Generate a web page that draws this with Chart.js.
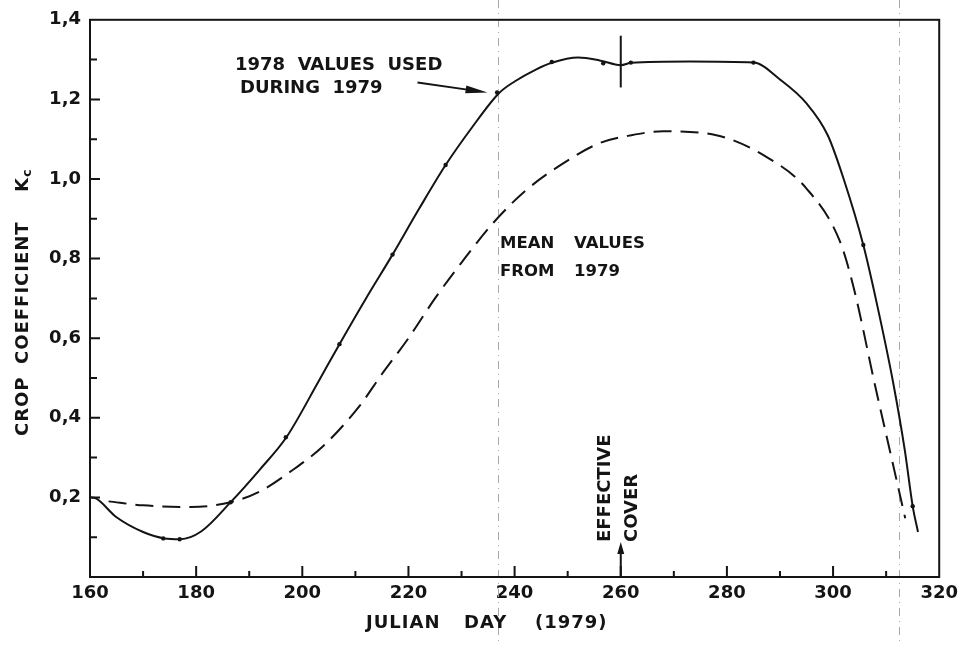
<!DOCTYPE html>
<html>
<head>
<meta charset="utf-8">
<script src="https://cdn.jsdelivr.net/npm/chart.js@4"></script>
<style>
  html, body { margin: 0; background: #fff; }
</style>
</head>
<body>
<canvas id="kcChart" width="964" height="646"></canvas>
<script>
'use strict'

// solid curve: 1978 values used during 1979
var days1978 = [160, 161, 165, 170, 174, 177, 181, 186.5, 192, 197, 203, 207, 212, 217, 222, 227, 232, 237, 240, 244, 247, 252, 256, 260, 262, 273, 285, 290, 295, 299, 302, 305.7, 308.2, 311.3, 313.5, 315, 316];
var kc1978 = [0.2, 0.198, 0.15, 0.113, 0.097, 0.095, 0.115, 0.188, 0.27, 0.351, 0.49, 0.585, 0.70, 0.81, 0.925, 1.035, 1.13, 1.215, 1.245, 1.275, 1.292, 1.305, 1.298, 1.286, 1.292, 1.295, 1.2925, 1.25, 1.19, 1.11, 1.0, 0.834, 0.69, 0.49, 0.32, 0.178, 0.113];

// measured dots on the solid curve
var dotDays = [173.8, 176.9, 186.5, 196.9, 207, 217, 227, 236.7, 247, 256.7, 261.9, 285, 305.7, 315];
var dotKc = [0.097, 0.095, 0.188, 0.351, 0.585, 0.81, 1.035, 1.2175, 1.294, 1.291, 1.2925, 1.2925, 0.834, 0.178];

// dashed curve: mean values from 1979
var daysMean = [163.5, 170, 179, 186.5, 192, 198, 204, 210.8, 215, 220, 225, 230, 236, 242, 249, 256, 262, 268, 278, 287.5, 295, 301.3, 303.9, 308, 311, 313.6];
var kcMean = [0.19, 0.18, 0.176, 0.188, 0.215, 0.267, 0.33, 0.43, 0.51, 0.60, 0.70, 0.79, 0.89, 0.97, 1.038, 1.09, 1.11, 1.12, 1.11, 1.055, 0.976, 0.843, 0.726, 0.476, 0.30, 0.1475];

var guideDays = [236.8, 312.5];   // faint dash-dot verticals
var coverDay = 260;               // effective cover

var ink = '#141414';
var fontFamily = '"DejaVu Sans", sans-serif';

function toPoints(xs, ys) {
  return xs.map(function(x, i) { return { x: x, y: ys[i] }; });
}

function arrowHead(ctx, x0, y0, x1, y1, len, half) {
  var a = Math.atan2(y1 - y0, x1 - x0);
  var c = Math.cos(a), s = Math.sin(a);
  ctx.beginPath();
  ctx.moveTo(x1, y1);
  ctx.lineTo(x1 - len * c + half * s, y1 - len * s - half * c);
  ctx.lineTo(x1 - len * c - half * s, y1 - len * s + half * c);
  ctx.closePath();
  ctx.fill();
}

var decor = {
  id: 'decor',
  beforeDatasetsDraw: function(chart) {
    var ctx = chart.ctx, xs = chart.scales.x;
    ctx.save();
    ctx.strokeStyle = '#a8a8a8';
    ctx.lineWidth = 1;
    ctx.setLineDash([8, 5, 1, 5]);
    guideDays.forEach(function(d) {
      var px = Math.round(xs.getPixelForValue(d)) + 0.5;
      ctx.beginPath();
      ctx.moveTo(px, 0);
      ctx.lineTo(px, chart.height);
      ctx.stroke();
    });
    ctx.restore();
  },
  afterDraw: function(chart) {
    var ctx = chart.ctx, a = chart.chartArea, xs = chart.scales.x, ys = chart.scales.y;
    var X = function(v) { return xs.getPixelForValue(v); };
    var Y = function(v) { return ys.getPixelForValue(v); };
    ctx.save();
    ctx.strokeStyle = ink;
    ctx.fillStyle = ink;
    ctx.lineWidth = 2;
    ctx.strokeRect(a.left, a.top, a.right - a.left, a.bottom - a.top);

    // inward tick marks
    ctx.beginPath();
    for (var d = 170; d < 320; d += 10) {
      var len = (d % 20 === 0) ? 11 : 6;
      ctx.moveTo(X(d), a.bottom);
      ctx.lineTo(X(d), a.bottom - len);
    }
    for (var i = 1; i < 14; i++) {
      var l2 = (i % 2 === 0) ? 10 : 7;
      ctx.moveTo(a.left, Y(i / 10));
      ctx.lineTo(a.left + l2, Y(i / 10));
    }
    ctx.stroke();

    // mark at effective cover on the solid curve
    ctx.beginPath();
    ctx.moveTo(X(coverDay), Y(1.23));
    ctx.lineTo(X(coverDay), Y(1.36));
    ctx.stroke();

    // effective cover arrow
    ctx.beginPath();
    ctx.moveTo(X(coverDay), a.bottom);
    ctx.lineTo(X(coverDay), Y(0.06));
    ctx.stroke();
    arrowHead(ctx, X(coverDay), a.bottom, X(coverDay), Y(0.088), 12, 3.5);

    // arrow to the 1978 curve
    ctx.lineWidth = 1.8;
    var ax0 = X(221.7), ay0 = Y(1.2425), ax1 = X(234.9), ay1 = Y(1.2175);
    ctx.beginPath();
    ctx.moveTo(ax0, ay0);
    ctx.lineTo(ax1 - 15, ay1 - 2);
    ctx.stroke();
    arrowHead(ctx, ax0, ay0, ax1, ay1, 22, 4);

    // annotations
    ctx.font = 'bold 18px ' + fontFamily;
    ctx.textBaseline = 'middle';
    ctx.textAlign = 'left';
    ctx.fillText('1978  VALUES  USED', 235, 65);
    ctx.fillText('DURING  1979', 240, 88);

    ctx.font = 'bold 16.5px ' + fontFamily;
    ctx.fillText('MEAN', 500, 244);
    ctx.fillText('VALUES', 574, 244);
    ctx.fillText('FROM', 500, 272);
    ctx.fillText('1979', 574, 272);

    // rotated "EFFECTIVE COVER"
    ctx.font = 'bold 18px ' + fontFamily;
    ctx.save();
    ctx.translate(605, 542);
    ctx.rotate(-Math.PI / 2);
    ctx.fillText('EFFECTIVE', 0, 0);
    ctx.restore();
    ctx.save();
    ctx.translate(632, 542);
    ctx.rotate(-Math.PI / 2);
    ctx.fillText('COVER', 0, 0);
    ctx.restore();

    // x axis title
    ctx.letterSpacing = '1px';
    ctx.fillText('JULIAN', 366, 623);
    ctx.fillText('DAY', 464, 623);
    ctx.fillText('(1979)', 535, 623);

    // y axis title
    ctx.save();
    ctx.translate(23, 436);
    ctx.rotate(-Math.PI / 2);
    ctx.fillText('CROP', 0, 0);
    ctx.fillText('COEFFICIENT', 72, 0);
    ctx.fillText('K', 244, 0);
    ctx.font = 'bold 13px ' + fontFamily;
    ctx.fillText('c', 259, 5);
    ctx.restore();

    ctx.restore();
  }
};

var ctx = document.getElementById('kcChart');

var chart = new Chart(ctx, {
  type: 'line',
  data: {
    datasets: [{
      label: '1978 values used during 1979',
      data: toPoints(days1978, kc1978),
      borderColor: ink,
      borderWidth: 2,
      pointRadius: 0,
      cubicInterpolationMode: 'monotone',
      fill: false
    },
    {
      label: 'dots',
      data: toPoints(dotDays, dotKc),
      showLine: false,
      pointRadius: 2.2,
      pointBackgroundColor: ink,
      pointBorderWidth: 0
    },
    {
      label: 'Mean values from 1979',
      data: toPoints(daysMean, kcMean),
      borderColor: ink,
      borderWidth: 2,
      borderDash: [18, 9],
      pointRadius: 0,
      cubicInterpolationMode: 'monotone',
      fill: false
    }]
  },
  options: {
    responsive: false,
    animation: false,
    layout: { padding: { top: 17, right: 24, left: 0, bottom: 0 } },
    plugins: {
      legend: { display: false },
      tooltip: { enabled: false }
    },
    scales: {
      x: {
        type: 'linear',
        min: 160,
        max: 320,
        afterFit: function(s) { s.height = 69; },
        grid: { display: false, drawTicks: false },
        border: { display: false },
        ticks: {
          stepSize: 20,
          padding: 6,
          color: ink,
          maxRotation: 0,
          autoSkip: false,
          font: { family: fontFamily, size: 18, weight: 'bold' }
        }
      },
      y: {
        min: 0,
        max: 1.4,
        afterFit: function(s) { s.width = 90; },
        grid: { display: false, drawTicks: false },
        border: { display: false },
        ticks: {
          stepSize: 0.2,
          padding: 9,
          color: ink,
          font: { family: fontFamily, size: 18, weight: 'bold' },
          callback: function(v) {
            if (Math.abs(v) < 1e-6) return '';
            return Number(v).toFixed(1).replace('.', ',');
          }
        }
      }
    }
  },
  plugins: [decor]
});
</script>
</body>
</html>
